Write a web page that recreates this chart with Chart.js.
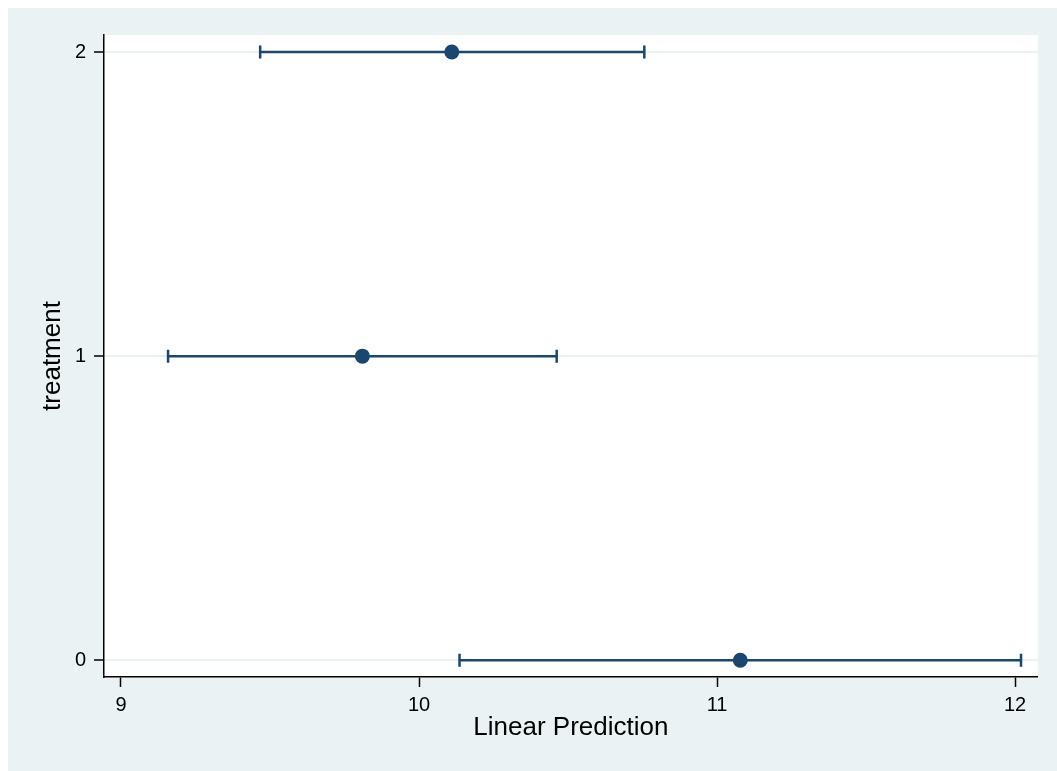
<!DOCTYPE html>
<html>
<head>
<meta charset="utf-8">
<script src="https://cdn.jsdelivr.net/npm/chart.js@4/dist/chart.umd.min.js"></script>
<style>
  html, body { margin: 0; padding: 0; background: #ffffff; }
  #wrap { width: 1057px; height: 771px; }
</style>
</head>
<body>
<div id="wrap"><canvas id="c" width="1057" height="771"></canvas></div>
<script>
// ---- data ----
const categories = [0, 1, 2];              // treatment levels
const estimates  = [11.078, 9.810, 10.110]; // Linear Prediction (point estimate)
const ciLow      = [10.136, 9.158, 9.467];  // lower 95% CI
const ciHigh     = [12.020, 10.462, 10.756];// upper 95% CI
const xTicks     = [9, 10, 11, 12];
const yTicks     = [0, 1, 2];
const xTitle     = 'Linear Prediction';
const yTitle     = 'treatment';

const NAVY = '#1a476f';
const BG = '#eaf2f3';
const FONT = "'Liberation Sans', Arial, Helvetica, sans-serif";

const ciDatasets = categories.map((c, i) => ({
  type: 'line',
  data: [{x: ciLow[i], y: c}, {x: ciHigh[i], y: c}],
  borderColor: NAVY,
  borderWidth: 2.5,
  showLine: true,
  pointStyle: 'line',
  pointRotation: 90,
  pointRadius: 6.5,
  pointBorderWidth: 2.5,
  pointBorderColor: NAVY,
  pointBackgroundColor: NAVY,
  order: 1
}));

const pointDataset = {
  type: 'scatter',
  data: categories.map((c, i) => ({x: estimates[i], y: c})),
  backgroundColor: NAVY,
  borderColor: NAVY,
  pointRadius: 7.5,
  pointBorderWidth: 0,
  order: 0
};

const bgPlugin = {
  id: 'bg',
  beforeDraw(chart) {
    const ctx = chart.ctx, a = chart.chartArea;
    ctx.save();
    ctx.fillStyle = '#ffffff';
    ctx.fillRect(0, 0, chart.width, chart.height);
    ctx.fillStyle = BG;
    ctx.fillRect(8, 8, chart.width - 8, chart.height - 8);
    ctx.fillStyle = '#ffffff';
    ctx.fillRect(a.left, a.top, a.right - a.left, a.bottom - a.top);
    ctx.restore();
  }
};

new Chart(document.getElementById('c'), {
  data: { datasets: [pointDataset, ...ciDatasets] },
  plugins: [bgPlugin],
  options: {
    responsive: false,
    animation: false,
    layout: { padding: { left: 0, top: 35, right: 19.3, bottom: 0 } },
    plugins: { legend: { display: false }, tooltip: { enabled: false } },
    scales: {
      x: {
        type: 'linear',
        position: 'bottom',
        min: 8.943,
        max: 12.076,
        afterBuildTicks(s) { s.ticks = xTicks.map(v => ({value: v})); },
        afterFit(s) { s.height = 94; },
        grid: { drawOnChartArea: false, tickLength: 10, tickColor: '#000', tickWidth: 1.5 },
        border: { color: '#000', width: 1.5 },
        ticks: { color: '#000', padding: 6, font: { family: FONT, size: 20 }, maxRotation: 0 },
        title: { display: true, text: xTitle, color: '#000', font: { family: FONT, size: 26 }, padding: { top: 0, bottom: 27.4 } }
      },
      y: {
        type: 'linear',
        position: 'left',
        min: -0.055,
        max: 2.056,
        afterBuildTicks(s) { s.ticks = yTicks.map(v => ({value: v})); },
        afterFit(s) { s.width = 104; },
        grid: { color: BG, lineWidth: 2, tickLength: 10, tickColor: '#000', tickWidth: 1.5 },
        border: { color: '#000', width: 1.5 },
        ticks: { color: '#000', padding: 8, font: { family: FONT, size: 20 } },
        title: { display: true, text: yTitle, color: '#000', font: { family: FONT, size: 26 }, padding: { top: 37, bottom: 0 } }
      }
    }
  }
});
</script>
</body>
</html>
